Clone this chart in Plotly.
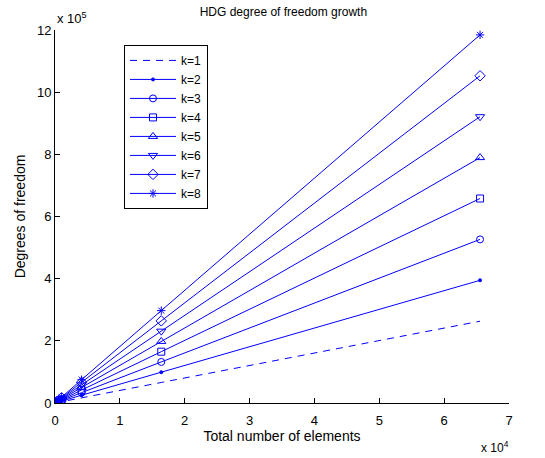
import plotly.graph_objects as go

# Mesh sizes (total number of elements)
elements = [16, 64, 256, 1024, 4096, 16384, 65536]

# Global HDG degrees of freedom for each polynomial degree k
dof_k1 = [80, 288, 1088, 4224, 16640, 66048, 263168]
dof_k2 = [120, 432, 1632, 6336, 24960, 99072, 394752]
dof_k3 = [160, 576, 2176, 8448, 33280, 132096, 526336]
dof_k4 = [200, 720, 2720, 10560, 41600, 165120, 657920]
dof_k5 = [240, 864, 3264, 12672, 49920, 198144, 789504]
dof_k6 = [280, 1008, 3808, 14784, 58240, 231168, 921088]
dof_k7 = [320, 1152, 4352, 16896, 66560, 264192, 1052672]
dof_k8 = [360, 1296, 4896, 19008, 74880, 297216, 1184256]

series_names = ["k=1", "k=2", "k=3", "k=4", "k=5", "k=6", "k=7", "k=8"]
series_values = [dof_k1, dof_k2, dof_k3, dof_k4, dof_k5, dof_k6, dof_k7, dof_k8]

x_tick_vals = [0, 10000, 20000, 30000, 40000, 50000, 60000, 70000]
x_tick_text = ["0", "1", "2", "3", "4", "5", "6", "7"]
y_tick_vals = [0, 200000, 400000, 600000, 800000, 1000000, 1200000]
y_tick_text = ["0", "2", "4", "6", "8", "10", "12"]

BLUE = "#0000ff"
styles = [
    dict(mode="lines", dash="7px,6px", symbol=None, size=0),
    dict(mode="lines+markers", dash="solid", symbol="circle", size=3),
    dict(mode="lines+markers", dash="solid", symbol="circle-open", size=7),
    dict(mode="lines+markers", dash="solid", symbol="square-open", size=7),
    dict(mode="lines+markers", dash="solid", symbol="triangle-up-open", size=8),
    dict(mode="lines+markers", dash="solid", symbol="triangle-down-open", size=8),
    dict(mode="lines+markers", dash="solid", symbol="diamond-open", size=8),
    dict(mode="lines+markers", dash="solid", symbol="asterisk-open", size=7),
]

fig = go.Figure()
for name, vals, st in zip(series_names, series_values, styles):
    marker = dict(color=BLUE, size=st["size"], line=dict(color=BLUE, width=1))
    if st["symbol"]:
        marker["symbol"] = st["symbol"]
    fig.add_trace(go.Scatter(
        x=elements, y=vals, name=name, mode=st["mode"],
        line=dict(color=BLUE, width=1, dash=st["dash"]),
        marker=marker,
    ))

font = dict(family="Liberation Sans, Arial, sans-serif", size=12, color="black")

fig.update_layout(
    width=545, height=458,
    margin=dict(l=55, r=36, t=30, b=55),
    paper_bgcolor="white", plot_bgcolor="white",
    font=font,
    title=dict(text="HDG degree of freedom growth", x=0.52, xanchor="center",
               y=0.975, yanchor="middle", font=dict(size=12)),
    showlegend=True,
    legend=dict(x=0.152, y=0.96, xanchor="left", yanchor="top",
                bgcolor="white", bordercolor="black", borderwidth=1,
                font=dict(size=12), tracegroupgap=0, itemwidth=46),
    xaxis=dict(range=[0, 70000], tickvals=x_tick_vals, ticktext=x_tick_text,
               ticks="inside", ticklen=5, tickcolor="black", showline=True,
               linecolor="black", linewidth=1, showgrid=False, zeroline=False,
               ticklabelstandoff=5, tickfont=dict(size=13),
               title=dict(text="Total number of elements", standoff=2)),
    yaxis=dict(range=[0, 1200000], tickvals=y_tick_vals, ticktext=y_tick_text,
               ticks="inside", ticklen=5, tickcolor="black", showline=True,
               linecolor="black", linewidth=1, showgrid=False, zeroline=False,
               tickfont=dict(size=13),
               title=dict(text="Degrees of freedom", standoff=8)),
    annotations=[
        dict(text="x 10<sup>5</sup>", xref="paper", yref="paper", x=0.0,
             y=1.0, xanchor="left", yanchor="bottom", showarrow=False,
             font=dict(size=13), xshift=0, yshift=2),
        dict(text="x 10<sup>4</sup>", xref="paper", yref="paper", x=1.0,
             y=0.0, xanchor="right", yanchor="top", showarrow=False,
             font=dict(size=12), xshift=2, yshift=-34),
    ],
)

fig.write_html("out.html")
